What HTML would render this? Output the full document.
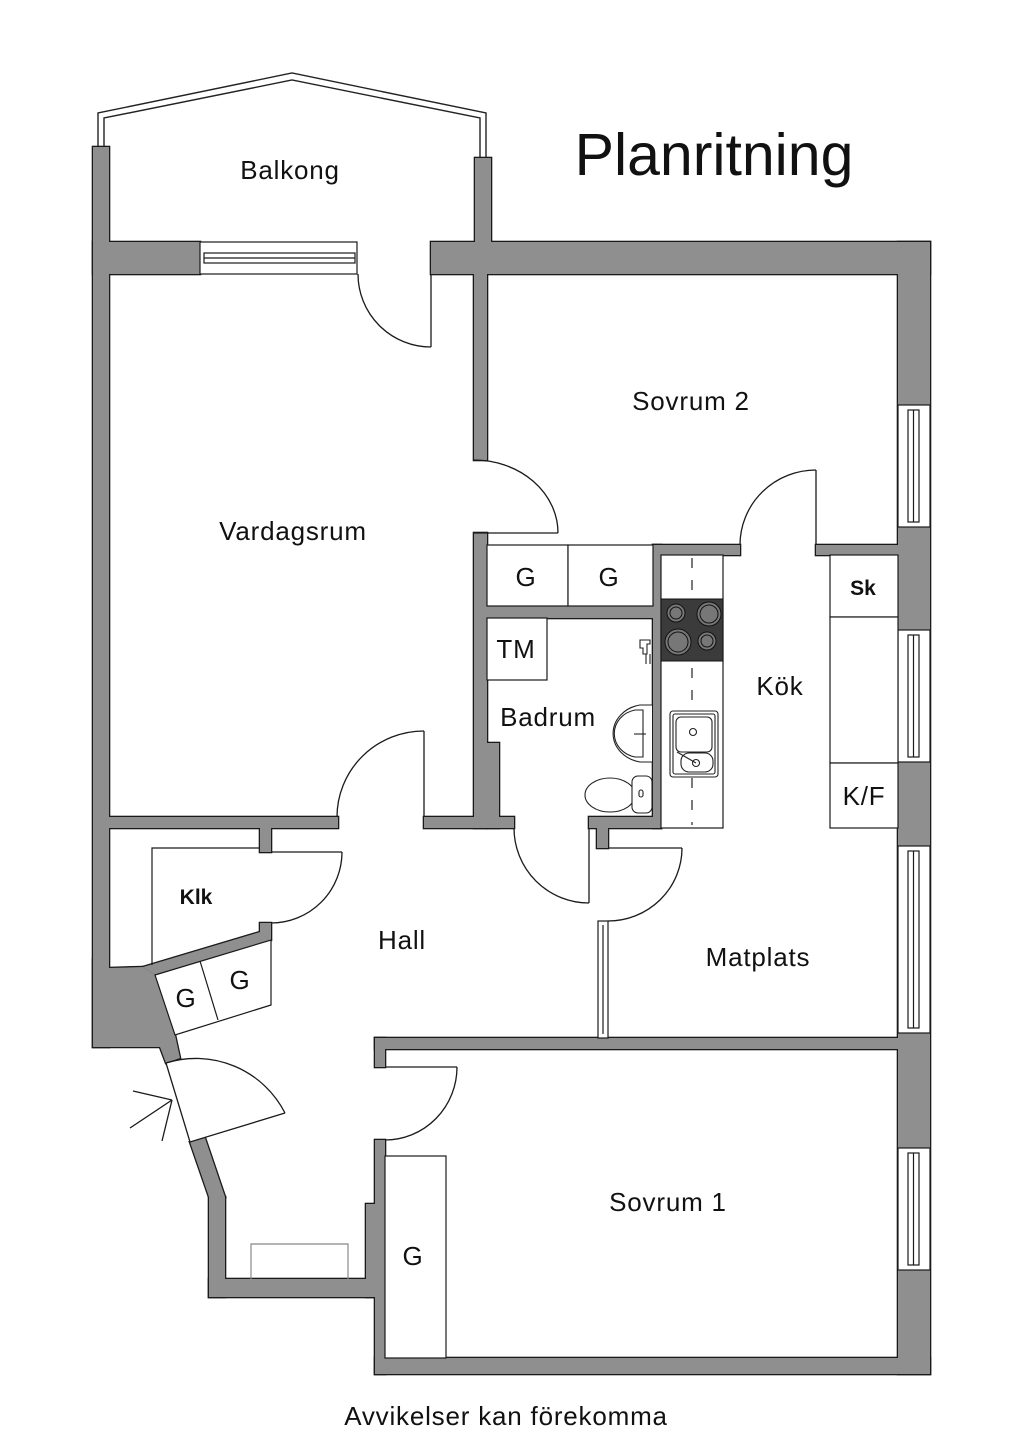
<!DOCTYPE html>
<html><head><meta charset="utf-8"><style>
html,body{margin:0;padding:0;background:#fff;}
svg{display:block;}
text{font-family:"Liberation Sans",sans-serif;fill:#111;}
</style></head><body>
<svg width="1024" height="1448" viewBox="0 0 1024 1448" xmlns="http://www.w3.org/2000/svg">
<rect width="1024" height="1448" fill="#fff"/>

<polyline points="98,147 98,113 292,73 486,113 486,158" fill="none" stroke="#222" stroke-width="1.4"/>
<polyline points="104,147 104,118 292,80 480,118 480,158" fill="none" stroke="#222" stroke-width="1.4"/>

<g fill="#8f8f8f" stroke="#1a1a1a" stroke-width="2.6" stroke-linejoin="miter">
<rect x="93" y="147" width="16" height="900"/>
<polygon points="93,960 109,968 143,967 155,975 175,1035 180,1058 166,1063 160,1047 93,1047"/>
<polygon points="143,967 260,932 260,923 271,923 271,940 155,975"/>
<rect x="260" y="828" width="11" height="24"/>
<rect x="475" y="158" width="16" height="84"/>
<rect x="93" y="242" width="107" height="32"/>
<rect x="431" y="242" width="499" height="32"/>
<rect x="474" y="274" width="13" height="186"/>
<rect x="474" y="533" width="13" height="295"/>
<rect x="487" y="743" width="12" height="85"/>
<rect x="109" y="817" width="229" height="11"/>
<rect x="424" y="817" width="90" height="11"/>
<rect x="589" y="817" width="72" height="11"/>
<rect x="597" y="828" width="11" height="20"/>
<rect x="653" y="545" width="8" height="283"/>
<rect x="653" y="545" width="87" height="10"/>
<rect x="816" y="545" width="82" height="10"/>
<rect x="487" y="606" width="166" height="12"/>
<rect x="898" y="242" width="32" height="1132"/>
<rect x="375" y="1038" width="523" height="11"/>
<rect x="375" y="1038" width="10" height="29"/>
<rect x="375" y="1140" width="10" height="234"/>
<rect x="366" y="1204" width="9" height="93"/>
<rect x="375" y="1358" width="555" height="16"/>
<rect x="209" y="1279" width="166" height="18"/>
<rect x="209" y="1197" width="16" height="100"/>
<polygon points="190,1142 205,1138 225,1197 209,1197"/>
</g>
<g fill="#8f8f8f" stroke="none">
<rect x="93" y="147" width="16" height="900"/>
<polygon points="93,960 109,968 143,967 155,975 175,1035 180,1058 166,1063 160,1047 93,1047"/>
<polygon points="143,967 260,932 260,923 271,923 271,940 155,975"/>
<rect x="260" y="828" width="11" height="24"/>
<rect x="475" y="158" width="16" height="84"/>
<rect x="93" y="242" width="107" height="32"/>
<rect x="431" y="242" width="499" height="32"/>
<rect x="474" y="274" width="13" height="186"/>
<rect x="474" y="533" width="13" height="295"/>
<rect x="487" y="743" width="12" height="85"/>
<rect x="109" y="817" width="229" height="11"/>
<rect x="424" y="817" width="90" height="11"/>
<rect x="589" y="817" width="72" height="11"/>
<rect x="597" y="828" width="11" height="20"/>
<rect x="653" y="545" width="8" height="283"/>
<rect x="653" y="545" width="87" height="10"/>
<rect x="816" y="545" width="82" height="10"/>
<rect x="487" y="606" width="166" height="12"/>
<rect x="898" y="242" width="32" height="1132"/>
<rect x="375" y="1038" width="523" height="11"/>
<rect x="375" y="1038" width="10" height="29"/>
<rect x="375" y="1140" width="10" height="234"/>
<rect x="366" y="1204" width="9" height="93"/>
<rect x="375" y="1358" width="555" height="16"/>
<rect x="209" y="1279" width="166" height="18"/>
<rect x="209" y="1197" width="16" height="100"/>
<polygon points="190,1142 205,1138 225,1197 209,1197"/>
</g>

<g fill="#fff" stroke="#1a1a1a" stroke-width="1.2">
<rect x="200" y="242" width="157" height="32"/>
<rect x="204" y="253" width="151" height="10"/>
<line x1="204" y1="258" x2="355" y2="258"/>
<rect x="898" y="405" width="32" height="122"/>
<rect x="908" y="410" width="11" height="112"/>
<line x1="913.5" y1="410" x2="913.5" y2="522"/>
<rect x="898" y="630" width="32" height="132"/>
<rect x="908" y="635" width="11" height="122"/>
<line x1="913.5" y1="635" x2="913.5" y2="757"/>
<rect x="898" y="846" width="32" height="187"/>
<rect x="908" y="851" width="11" height="177"/>
<line x1="913.5" y1="851" x2="913.5" y2="1028"/>
<rect x="898" y="1148" width="32" height="122"/>
<rect x="908" y="1153" width="11" height="112"/>
<line x1="913.5" y1="1153" x2="913.5" y2="1265"/>
<rect x="598" y="921" width="10" height="117"/>
<line x1="603" y1="925" x2="603" y2="1034"/>
</g>

<g fill="none" stroke="#1a1a1a" stroke-width="1.3">
<line x1="431" y1="274" x2="431" y2="347"/>
<path d="M431,347 A73,73 0 0 1 358,274"/>
<line x1="474" y1="533" x2="558" y2="533"/>
<path d="M558,533 A84,73 0 0 0 474,460"/>
<line x1="816" y1="470" x2="816" y2="545"/>
<path d="M816,470 A76,75 0 0 0 740,545"/>
<line x1="424" y1="731" x2="424" y2="817"/>
<path d="M424,731 A87,86 0 0 0 337,817"/>
<line x1="271" y1="852" x2="342" y2="852"/>
<path d="M342,852 A71,71 0 0 1 271,923"/>
<line x1="589" y1="828" x2="589" y2="903"/>
<path d="M514,828 A75,75 0 0 0 589,903"/>
<line x1="608" y1="848" x2="682" y2="848"/>
<path d="M682,848 A74,73 0 0 1 608,921"/>
<line x1="385" y1="1067" x2="457" y2="1067"/>
<path d="M457,1067 A72,73 0 0 1 385,1140"/>
<path d="M166,1063 L190,1142 L285,1113 A100,100 0 0 0 166,1063 Z" fill="#fff" stroke="none"/>
<polyline points="166,1063 190,1142 285,1113"/>
<path d="M285,1113 A100,100 0 0 0 166,1063"/>
<line x1="130" y1="1128" x2="172" y2="1100"/>
<line x1="133" y1="1091" x2="172" y2="1100"/>
<line x1="162" y1="1141" x2="172" y2="1100"/>
</g>

<g fill="#fff" stroke="#1a1a1a" stroke-width="1.2">
<rect x="487" y="545" width="81" height="61"/>
<rect x="568" y="545" width="85" height="61"/>
<rect x="487" y="618" width="60" height="62"/>
<polyline points="152,965 152,848 260,848" fill="none"/>
<polygon points="155,975 271,940 271,1005 175,1035"/>
<line x1="200" y1="961" x2="218" y2="1020"/>
<rect x="385" y="1156" width="61" height="202"/>
<polyline points="251,1279 251,1244 348,1244 348,1279" fill="none" stroke="#888"/>
<rect x="661" y="555" width="62" height="273"/>
<rect x="830" y="555" width="68" height="62"/>
<rect x="830" y="617" width="68" height="146"/>
<rect x="830" y="763" width="68" height="65"/>
</g>
<line x1="692" y1="558" x2="692" y2="825" stroke="#222" stroke-width="1.2" stroke-dasharray="10,12"/>

<rect x="661" y="599" width="62" height="62" fill="#3b3b3b" stroke="#111" stroke-width="1"/>
<g fill="#777" stroke="#111" stroke-width="1">
<circle cx="676" cy="613" r="9"/><circle cx="676" cy="613" r="6"/>
<circle cx="709" cy="614" r="12"/><circle cx="709" cy="614" r="9"/>
<circle cx="678" cy="642" r="13"/><circle cx="678" cy="642" r="10"/>
<circle cx="707" cy="641" r="9"/><circle cx="707" cy="641" r="6"/>
</g>
<g fill="#fff" stroke="#222" stroke-width="1.1">
<rect x="670" y="711" width="48" height="66" rx="3"/>
<rect x="673" y="714" width="42" height="60" rx="2"/>
<rect x="676" y="717" width="36" height="35" rx="5"/>
<circle cx="693" cy="732" r="3.5"/>
<rect x="681" y="753" width="32" height="19" rx="8"/>
<circle cx="696" cy="763" r="3.5"/>
<line x1="677" y1="752" x2="696" y2="763"/>
</g>
<g fill="#fff" stroke="#222" stroke-width="1.1">
<path d="M652,705 L640,705 A33,29 0 0 0 640,762 L652,762"/>
<path d="M643,710 L635,710 A26,24 0 0 0 635,757 L643,757 Z"/>
<line x1="634" y1="734" x2="646" y2="734"/>
<ellipse cx="610" cy="795" rx="25" ry="17"/>
<rect x="632" y="776" width="20" height="37" rx="6"/>
<rect x="639" y="790" width="4" height="7" rx="2"/>
<path d="M640,640 h10 v4 h-3 v10 h-4 v-6 h-3 z"/>
<line x1="646" y1="654" x2="646" y2="664"/>
<line x1="650" y1="654" x2="650" y2="664"/>
</g>

<text x="714" y="175" font-size="59" text-anchor="middle">Planritning</text>
<g font-size="26" text-anchor="middle" letter-spacing="0.8">
<text x="290" y="179">Balkong</text>
<text x="293" y="540">Vardagsrum</text>
<text x="691" y="410">Sovrum 2</text>
<text x="780" y="695">Kök</text>
<text x="548" y="726">Badrum</text>
<text x="516" y="658">TM</text>
<text x="526" y="586">G</text>
<text x="609" y="586">G</text>
<text x="864" y="805">K/F</text>
<text x="402" y="949">Hall</text>
<text x="758" y="966">Matplats</text>
<text x="186" y="1007">G</text>
<text x="240" y="989">G</text>
<text x="668" y="1211">Sovrum 1</text>
<text x="413" y="1265">G</text>
<text x="506" y="1425">Avvikelser kan förekomma</text>
</g>
<g font-size="21" text-anchor="middle" font-weight="bold">
<text x="863" y="595">Sk</text>
<text x="196" y="904">Klk</text>
</g>
</svg>
</body></html>
